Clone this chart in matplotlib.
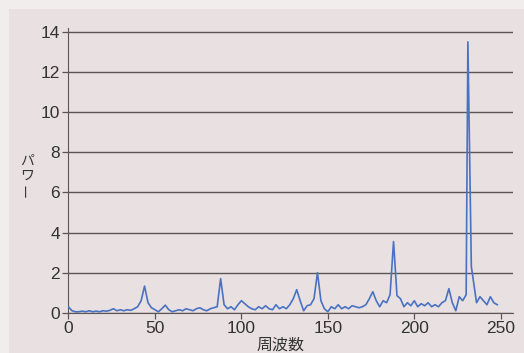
import matplotlib
matplotlib.use("Agg")
import matplotlib.pyplot as plt
from matplotlib.patches import Rectangle

plt.rcParams['font.family'] = ['Liberation Sans', 'Noto Sans CJK JP', 'DejaVu Sans']

# パワースペクトル (周波数, パワー)
freq = [0, 2, 4, 6, 8, 10, 12, 14, 16, 18, 20, 22, 24, 26, 28, 30, 32, 34, 36, 38,
        40, 42, 44, 46, 48, 50, 52, 54, 56, 58, 60, 62, 64, 66, 68, 70, 72, 74, 76, 78,
        80, 82, 84, 86, 88, 90, 92, 94, 96, 98, 100, 102, 104, 106, 108, 110, 112, 114,
        116, 118, 120, 122, 124, 126, 128, 130, 132, 134, 136, 138, 140, 142, 144, 146,
        148, 150, 152, 154, 156, 158, 160, 162, 164, 166, 168, 170, 172, 174, 176, 178,
        180, 182, 184, 186, 188, 190, 192, 194, 196, 198, 200, 202, 204, 206, 208, 210,
        212, 214, 216, 218, 220, 222, 224, 226, 228, 230, 231, 233, 236, 238, 240, 242,
        244, 246, 248]
power = [0.3, 0.1, 0.05, 0.05, 0.08, 0.05, 0.1, 0.05, 0.08, 0.05, 0.1, 0.08, 0.12, 0.2,
         0.1, 0.15, 0.1, 0.15, 0.12, 0.2, 0.3, 0.6, 1.33, 0.5, 0.25, 0.15, 0.05, 0.2, 0.38,
         0.15, 0.05, 0.1, 0.15, 0.1, 0.2, 0.15, 0.1, 0.2, 0.25, 0.15, 0.1, 0.2, 0.25, 0.3,
         1.7, 0.4, 0.2, 0.3, 0.15, 0.4, 0.6, 0.45, 0.3, 0.2, 0.15, 0.3, 0.2, 0.35, 0.2,
         0.15, 0.4, 0.2, 0.3, 0.2, 0.4, 0.7, 1.15, 0.6, 0.1, 0.35, 0.4, 0.7, 2.0, 0.6, 0.2,
         0.05, 0.3, 0.2, 0.4, 0.2, 0.3, 0.2, 0.35, 0.3, 0.25, 0.3, 0.4, 0.7, 1.05, 0.6, 0.3,
         0.6, 0.5, 0.9, 3.55, 0.85, 0.7, 0.3, 0.5, 0.35, 0.6, 0.3, 0.45, 0.35, 0.5, 0.3,
         0.4, 0.3, 0.5, 0.6, 1.2, 0.5, 0.1, 0.8, 0.6, 0.9, 13.5, 2.3, 0.5, 0.8, 0.6, 0.4,
         0.8, 0.5, 0.4]

xticks = [0, 50, 100, 150, 200, 250]
yticks = [0, 2, 4, 6, 8, 10, 12, 14]

bg = '#e8e0e1'
fig = plt.figure(figsize=(5.24, 3.53), dpi=100, facecolor=bg)
# 上と左の明るい縁
fig.patches.append(Rectangle((0, 0.975), 1, 0.025, transform=fig.transFigure,
                             facecolor='#f1eded', edgecolor='none', zorder=0))
fig.patches.append(Rectangle((0, 0), 0.018, 1, transform=fig.transFigure,
                             facecolor='#f1eded', edgecolor='none', zorder=0))

ax = fig.add_axes([0.1307, 0.114, 0.848, 0.807])
ax.set_facecolor(bg)

ax.plot(freq, power, color='#4a72c2', lw=1.2, zorder=3)

ax.set_xlim(0, 257)
ax.set_ylim(0, 14.2)
ax.set_xticks(xticks)
ax.set_yticks(yticks)
ax.yaxis.grid(True, color='#5a5556', lw=1.0)
ax.set_axisbelow(True)
for s in ['top', 'right']:
    ax.spines[s].set_visible(False)
ax.spines['left'].set_color('#5a5556')
ax.spines['bottom'].set_color('#5a5556')
ax.tick_params(colors='#5a5556', labelcolor='#333333', labelsize=12.5,
               length=4, width=0.9, pad=2)

ax.set_xlabel('周波数', family=['Noto Sans CJK JP'], fontsize=11.5,
              color='#333333', va='center')
ax.xaxis.set_label_coords(0.478, -0.115)

# 縦書きの「パワー」
fig.text(0.051, 0.545, 'パ', family=['Noto Sans CJK JP'], fontsize=10,
         color='#333333', ha='center', va='center')
fig.text(0.051, 0.503, 'ワ', family=['Noto Sans CJK JP'], fontsize=10,
         color='#333333', ha='center', va='center')
fig.text(0.051, 0.462, 'ー', family=['Noto Sans CJK JP'], fontsize=10,
         color='#333333', ha='center', va='center', rotation=90)

fig.savefig('out.png', dpi=100, facecolor=fig.get_facecolor())
